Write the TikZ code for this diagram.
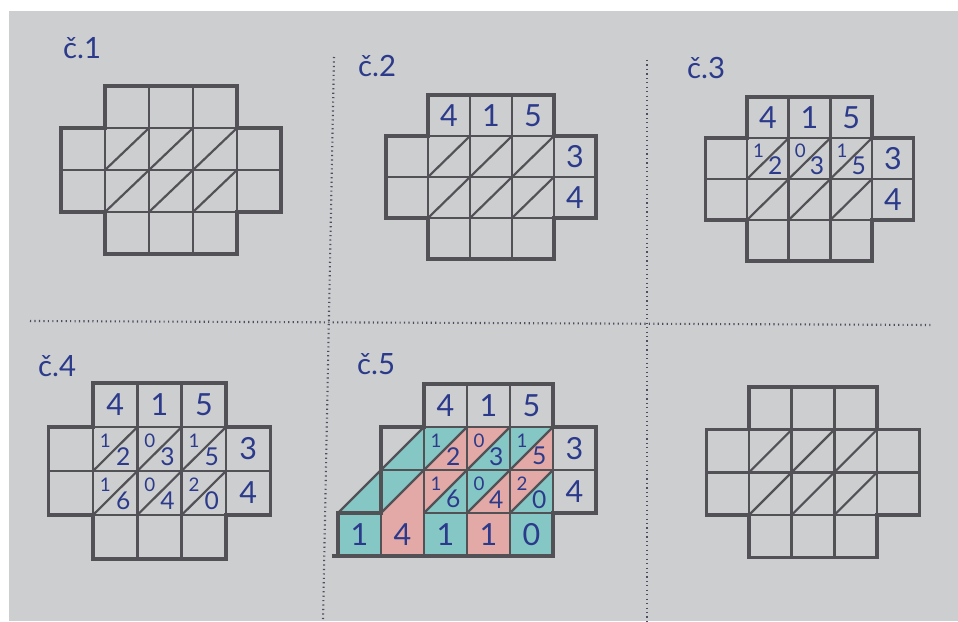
\documentclass[tikz,border=0pt]{standalone}
\usepackage{fontspec}
\newfontfamily\hand{Lato}
\usepackage{tikz}
\definecolor{paperGray}{HTML}{CDCED0}
\definecolor{gridInk}{HTML}{525256}
\definecolor{penBlue}{HTML}{2B3A8A}
\definecolor{crayonTeal}{HTML}{84C7C5}
\definecolor{crayonPink}{HTML}{E2A9A6}
\definecolor{dotInk}{HTML}{4C4E5E}

% cross-shaped lattice: one cell = one unit, (0,0) = top-left of the top row
\newcommand{\crossgrid}{%
  \draw[gridline] (0,1) -- (3,1) (-1,2) -- (4,2) (0,3) -- (3,3)
    (0,1) -- (0,3) (1,0) -- (1,4) (2,0) -- (2,4) (3,1) -- (3,3);
  \draw[gridiag] (0,2) -- (1,1) (0,3) -- (2,1) (1,3) -- (3,1) (2,3) -- (3,2);
}
\newcommand{\crossrim}{%
  \draw[gridrim] (0,0) -- (3,0) -- (3,1) -- (4,1) -- (4,3) -- (3,3) -- (3,4)
    -- (0,4) -- (0,3) -- (-1,3) -- (-1,1) -- (0,1) -- cycle;
}
\newcommand{\factors}[1]{%
  \foreach \dg [count=\i from 0] in {4,1,5}
    \node[head] (#1top\i) at (\i+0.5,0.5) {\dg};
  \node[head] (#1rowa) at (3.5,1.5) {3};
  \node[head] (#1rowb) at (3.5,2.5) {4};
}
\newcommand{\latticerow}[3]{%
  \foreach \tn/\un [count=\i from 0] in {#3} {
    \node[tens]  (#1t#2\i) at (\i+0.28,#2+0.32) {\tn};
    \node[units] (#1u#2\i) at (\i+0.68,#2+0.68) {\un};
  }
}

\begin{document}
\begin{tikzpicture}[
  x=0.3mm,y=-0.3mm,
  gridline/.style={gridInk,line width=0.8mm},
  gridiag/.style={gridInk,line width=0.65mm},
  gridrim/.style={gridInk,line width=1mm,line join=miter},
  cut/.style={dotInk,line width=1.8pt,dash pattern=on 1pt off 2.8pt},
  head/.style={font=\hand\fontsize{26}{26}\selectfont,text=penBlue,inner sep=0pt},
  tens/.style={font=\hand\fontsize{16}{16}\selectfont,text=penBlue,inner sep=0pt},
  units/.style={font=\hand\fontsize{21}{21}\selectfont,text=penBlue,inner sep=0pt},
  caption/.style={font=\hand\fontsize{25}{25}\selectfont,text=penBlue,anchor=west,inner sep=0pt}
]
\useasboundingbox (0,0) rectangle (958,621);
% Sheet of paper
\fill[white] (0,0) rectangle (958,621);
\fill[paperGray] (9,11) rectangle (958,621);

% Dotted separators
\coordinate (vatop) at (334,57);
\coordinate (vabot) at (323,621);
\coordinate (vbtop) at (647,60);
\coordinate (vbbot) at (647,621);
\coordinate (hleft) at (30,321);
\coordinate (hright) at (933,325);
\draw[cut] (vatop) -- (vabot);
\draw[cut] (vbtop) -- (vbbot);
\draw[cut] (hleft) -- (hright);

% Captions
\node[caption] (cap1) at (63,48)  {č.1};
\node[caption] (cap2) at (358,66) {č.2};
\node[caption] (cap3) at (687,68) {č.3};
\node[caption] (cap4) at (38,366) {č.4};
\node[caption] (cap5) at (357,364) {č.5};

% c.1 empty lattice
\begin{scope}[shift={(105,86)},x=13.2mm,y=-12.6mm]
  \crossgrid \crossrim
\end{scope}

% c.2 factors written in
\begin{scope}[shift={(428,95)},x=12.6mm,y=-12.3mm]
  \crossgrid \crossrim
  \factors{b}
\end{scope}

% c.3 first row multiplied
\begin{scope}[shift={(747,97)},x=12.5mm,y=-12.3mm]
  \crossgrid \crossrim
  \factors{c}
  \latticerow{c}{1}{1/2,0/3,1/5}
\end{scope}

% c.4 both rows multiplied
\begin{scope}[shift={(93,383)},x=13.3mm,y=-13.2mm]
  \crossgrid \crossrim
  \factors{d}
  \latticerow{d}{1}{1/2,0/3,1/5}
  \latticerow{d}{2}{1/6,0/4,2/0}
\end{scope}

% c.5 diagonals summed
\begin{scope}[shift={(424,384)},x=12.9mm,y=-12.9mm]
  \begin{scope}
    \clip (0,1) -- (3,1) -- (3,3) -- (-2,3) -- cycle;
    \foreach \a/\c in {1/crayonTeal,2/crayonPink,3/crayonTeal,4/crayonPink,5/crayonTeal}
      \fill[\c] (\a,0) -- (\a+1,0) -- (\a-3,4) -- (\a-4,4) -- cycle;
  \end{scope}
  \foreach \i/\c in {-2/crayonTeal,-1/crayonPink,0/crayonTeal,1/crayonPink,2/crayonTeal}
    \fill[\c] (\i,3) rectangle (\i+1,4);
  \crossgrid
  \draw[gridline] (-1,3) -- (-1,4) (0,3) -- (0,4);
  \draw[gridiag] (-2,3) -- (0,1) (-1,3) -- (0,2);
  \draw[gridrim] (0,0) -- (3,0) -- (3,1) -- (4,1) -- (4,3) -- (3,3) -- (3,4)
    -- (-2,4) -- (-2,3) -- (-1,3) -- (-1,1) -- (0,1) -- cycle;
  \draw[gridrim] (-2.15,4) -- (-2,4);
  \factors{e}
  \latticerow{e}{1}{1/2,0/3,1/5}
  \latticerow{e}{2}{1/6,0/4,2/0}
  \foreach \dg [count=\i from -2] in {1,4,1,1,0}
    \node[head] (esum\i) at (\i+0.5,3.5) {\dg};
\end{scope}

% blank lattice for practice
\begin{scope}[shift={(749,387)},x=12.8mm,y=-12.8mm]
  \crossgrid \crossrim
\end{scope}
\end{tikzpicture}
\end{document}
